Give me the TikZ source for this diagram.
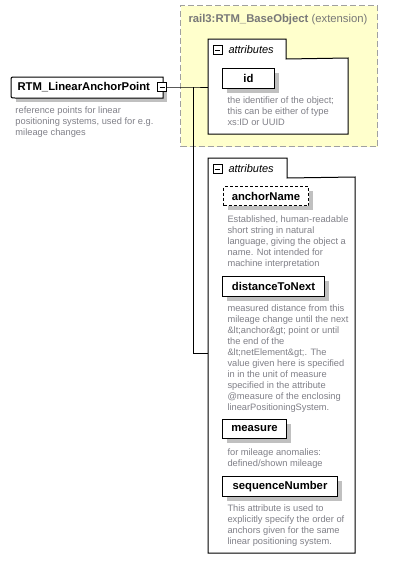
\documentclass[tikz,border=0pt]{standalone}
\usepackage{fontspec}
\setmainfont{Liberation Sans}
\usetikzlibrary{shadows}
\definecolor{desc}{RGB}{128,128,136}
\definecolor{shd}{RGB}{192,192,192}
\definecolor{ext}{RGB}{255,255,204}
\definecolor{extline}{RGB}{160,160,160}
\definecolor{exttext}{RGB}{120,120,120}
\begin{document}
\begin{tikzpicture}[x=1pt,y=-1pt,line width=1pt,
  elbox/.style={draw=black, fill=white, anchor=north west, minimum height=20pt, inner sep=0pt,
    font=\fontsize{11.3}{13}\selectfont\bfseries,
    general shadow={fill=shd, shadow xshift=4pt, shadow yshift=-4pt}},
  optbox/.style={elbox, dashed, dash pattern=on 3pt off 2pt},
  descr/.style={anchor=north west, inner sep=0pt, align=left, text=desc, font=\fontsize{9.3}{11}\selectfont},
  tabnode/.style={anchor=north west, inner sep=0pt, minimum height=19pt, font=\fontsize{11}{13}\selectfont\itshape},
  grpbox/.style={anchor=north west, inner sep=0pt},
  minusbox/.style={draw=black, fill=white, line width=0.8pt, minimum size=9pt, inner sep=0pt,
    path picture={\draw[line width=0.8pt] ([xshift=2pt]path picture bounding box.west) -- ([xshift=-2pt]path picture bounding box.east);}},
  conn/.style={draw=black, line width=1pt}
]
\useasboundingbox (0,0) rectangle (419,570);

% extension box
\node[grpbox, draw=extline, fill=ext, dash pattern=on 6pt off 3pt, minimum width=197pt, minimum height=141pt] (ext) at (180,5) {};
\node[anchor=west, inner sep=0pt, text=exttext, font=\fontsize{11.3}{13}\selectfont] (exttitle) at (188,20) {\textbf{rail3:RTM\_BaseObject} (extension)};

% upper attributes group
\node[grpbox, minimum width=77pt, minimum height=19pt] (t1) at (208,39) {};
\node[grpbox, minimum width=139pt, minimum height=75pt] (a1) at (208,58) {};
\draw[fill=white] (a1.south west) -- (t1.north west) -- (t1.north east) -- (t1.south east) -- (a1.north east) -- (a1.south east) -- cycle;
\node[minusbox] (m1) at (217.5,50) {};
\node[anchor=west, inner sep=0pt, font=\fontsize{11}{13}\selectfont\itshape] (t1l) at (228,49.5) {attributes};

\node[elbox, minimum width=52pt] (id) at (222,68) {id};
\node[descr] (iddesc) at (227,96) {the identifier of the object;\\this can be either of type\\xs:ID or UUID};

% lower attributes group
\node[grpbox, minimum width=78pt, minimum height=19pt] (t2) at (208,158) {};
\node[grpbox, minimum width=146pt, minimum height=375pt] (a2) at (208,177) {};
\draw[fill=white] (a2.south west) -- (t2.north west) -- (t2.north east) -- (t2.south east) -- (a2.north east) -- (a2.south east) -- cycle;
\node[minusbox] (m2) at (217.5,169) {};
\node[anchor=west, inner sep=0pt, font=\fontsize{11}{13}\selectfont\itshape] (t2l) at (228,168.5) {attributes};

\node[optbox, minimum width=85pt, minimum height=19pt] (an) at (223,186) {anchorName};
\node[descr] (andesc) at (227,215) {Established, human-readable\\short string in natural\\language, giving the object a\\name. Not intended for\\machine interpretation};

\node[elbox, minimum width=102pt] (dn) at (222,276) {distanceToNext};
\node[descr] (dndesc) at (227,304) {measured distance from this\\mileage change until the next\\\&lt;anchor\&gt; point or until\\the end of the\\\&lt;netElement\&gt;. The\\value given here is specified\\in in the unit of measure\\specified in the attribute\\@measure of the enclosing\\linearPositioningSystem.};

\node[elbox, minimum width=64pt, minimum height=19pt] (ms) at (222,419) {measure};
\node[descr] (msdesc) at (227,448) {for mileage anomalies:\\defined/shown mileage};

\node[elbox, minimum width=115pt] (sn) at (222,476) {sequenceNumber};
\node[descr] (sndesc) at (227,504) {This attribute is used to\\explicitly specify the order of\\anchors given for the same\\linear positioning system.};

% main element
\node[anchor=north west, inner sep=0pt, minimum width=151pt, minimum height=20pt, fill=white,
  general shadow={fill=shd, shadow xshift=4pt, shadow yshift=-4pt},
  font=\fontsize{11.3}{13}\selectfont\bfseries] (main) at (11,77) {};
\draw[fill=white] (main.north east) -- ([xshift=4pt]main.north west) .. controls (main.north west) .. ([yshift=-4pt]main.north west)
  -- ([yshift=4pt]main.south west) .. controls (main.south west) .. ([xshift=4pt]main.south west) -- (main.south east) -- cycle;
\node[anchor=west, inner sep=0pt, font=\fontsize{11.3}{13}\selectfont\bfseries] (mainl) at (17,87) {RTM\_LinearAnchorPoint};
\node[minusbox] (mm) at (162,87) {};
\node[descr] (maindesc) at (15,106) {reference points for linear\\positioning systems, used for e.g.\\mileage changes};

% connectors
\coordinate (j) at (193,87);
\coordinate (k) at (193,353);
\draw[conn] (mm.east) -- (j) -- (j -| a1.west);
\draw[conn] (j) -- (k) -- (k -| a2.west);
\end{tikzpicture}
\end{document}
